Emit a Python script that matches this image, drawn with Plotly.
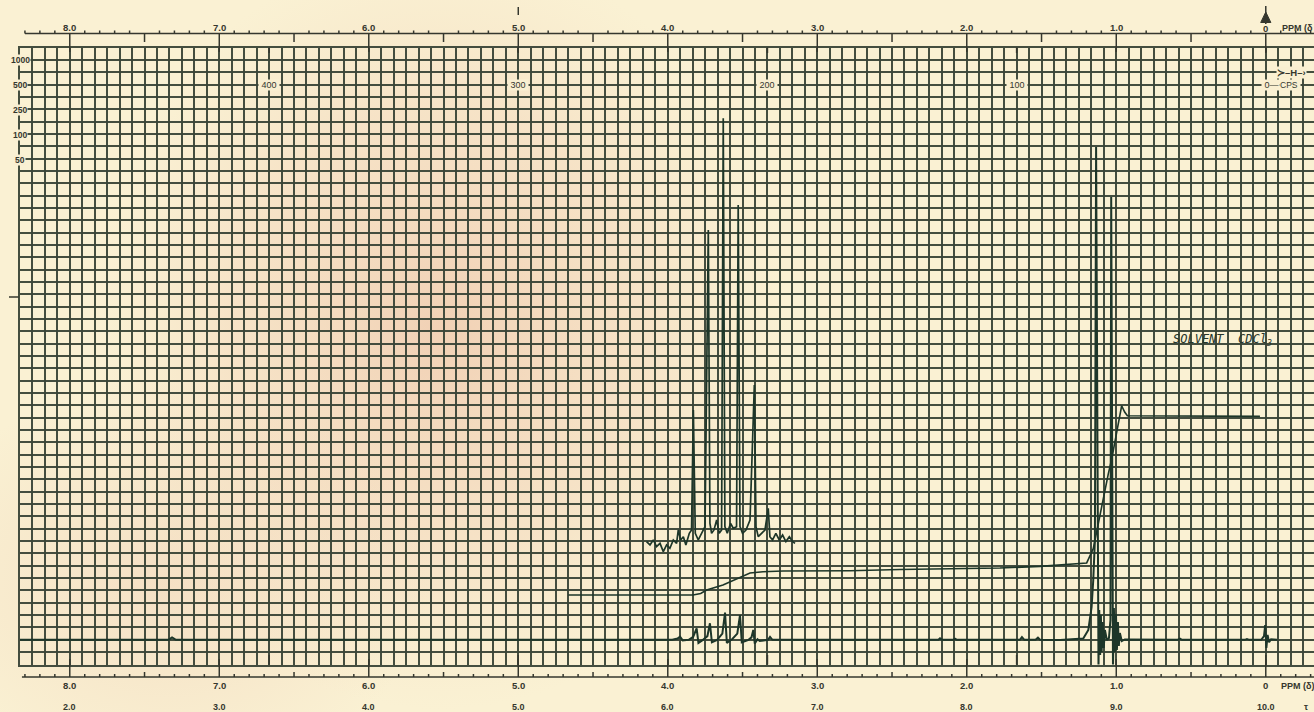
import base64
import plotly.graph_objects as go

# ---------------- spectrum data (δ in ppm, pen height in chart divisions) ----------------
spec_ppm = [8.333, 7.34, 7.316, 7.29, 3.97, 3.935, 3.918, 3.90, 3.86, 3.83, 3.807, 3.795,
            3.77, 3.735, 3.718, 3.705, 3.67, 3.635, 3.617, 3.605, 3.57, 3.535, 3.517, 3.505,
            3.46, 3.44, 3.428, 3.418, 3.40, 3.385, 3.33, 3.316, 3.30, 2.19, 2.179, 2.165,
            2.09, 2.079, 2.065, 1.645, 1.631, 1.615, 1.54, 1.524, 1.51, 1.376, 1.221, 1.187,
            1.165, 1.154, 1.143, 1.135, 1.119, 1.114, 1.108, 1.103, 1.098, 1.091, 1.084, 1.076,
            1.063, 1.049, 1.039, 1.034, 1.022, 1.016, 1.009, 1.002, 0.996, 0.989, 0.983, 0.976,
            0.963, 0.943, 0.59, 0.574, 0.56, 0.14, 0.126, 0.11, 0.03, 0.012, 0.004, -0.004,
            -0.012, -0.022, -0.035, -0.075]
spec_div = [2.0, 2.0, 2.2, 2.0, 2.0, 2.1, 2.25, 1.95, 2.0, 2.25, 2.93, 1.75,
            1.95, 2.3, 3.34, 1.8, 2.0, 2.5, 4.20, 1.75, 2.05, 2.5, 4.01, 1.8,
            2.0, 2.2, 2.80, 1.7, 2.05, 1.9, 2.0, 2.23, 2.0, 2.0, 2.12, 2.0,
            2.0, 2.1, 2.0, 2.0, 2.22, 2.0, 2.0, 2.17, 2.0, 1.99, 2.11, 2.80,
            4.66, 6.85, 10.09, 41.94, -0.32, 4.42, 0.77, 4.01, 1.01, 3.44, 1.34, 2.80,
            1.99, 2.15, 3.61, 37.88, -0.28, 4.58, 1.01, 4.09, 1.18, 3.44, 1.50, 2.55,
            1.90, 2.03, 2.0, 2.09, 2.0, 2.0, 2.07, 2.0, 2.0, 2.3, 3.2, 1.34,
            2.4, 1.8, 2.05, 2.0]

integral_ppm = [4.665, 3.831, 3.78, 3.740, 3.631, 3.539, 3.450, 3.363, 3.229, 2.781, 2.447,
                1.778, 1.510, 1.198, 1.154, 1.053, 1.031, 0.982, 0.964, 0.944, 0.926, 0.039]
integral_div = [5.63, 5.63, 5.75, 6.04, 6.44, 6.93, 7.41, 7.52, 7.58, 7.60, 7.70,
                7.82, 7.95, 8.23, 9.39, 15.47, 16.63, 19.81, 20.97, 20.46, 20.16, 20.11]

# expanded (higher gain) sweep of the 3.6 ppm multiplet
expand_ppm = [4.142, 4.119, 4.097, 4.075, 4.052, 4.030, 4.008, 3.986, 3.963, 3.941, 3.930,
              3.914, 3.896, 3.879, 3.856, 3.841, 3.829, 3.816, 3.796, 3.774, 3.751, 3.729,
              3.718, 3.707, 3.691, 3.673, 3.656, 3.640, 3.629, 3.618, 3.602, 3.580, 3.562,
              3.540, 3.529, 3.517, 3.500, 3.477, 3.450, 3.421, 3.410, 3.395, 3.372, 3.350,
              3.328, 3.317, 3.299, 3.277, 3.254, 3.232, 3.210, 3.187, 3.165, 3.149]
expand_div = [9.96, 9.69, 10.09, 9.55, 9.82, 9.15, 9.69, 9.42, 10.09, 9.82, 10.90,
              10.09, 10.36, 9.69, 10.63, 10.90, 20.63, 10.63, 10.09, 10.63, 11.17, 35.22,
              11.44, 10.63, 10.90, 11.71, 10.63, 10.90, 44.26, 11.17, 10.63, 11.44, 11.04,
              11.17, 37.24, 11.17, 10.63, 10.90, 11.71, 22.65, 11.17, 10.36, 10.63, 10.90,
              12.66, 10.36, 10.09, 10.63, 10.09, 10.49, 9.96, 10.36, 9.96, 9.82]

# ---------------- scale labels ----------------
delta_ticks = [8, 7, 6, 5, 4, 3, 2, 1]
delta_labels = ["8.0", "7.0", "6.0", "5.0", "4.0", "3.0", "2.0", "1.0"]
tau_labels = ["2.0", "3.0", "4.0", "5.0", "6.0", "7.0", "8.0", "9.0"]
cps_values = [400, 300, 200, 100]
cps_labels = ["400", "300", "200", "100"]
spectrometer_mhz = 60.0
sweep_labels = ["1000", "500", "250", "100", "50"]

# ---------------- geometry / style ----------------
W, H = 1314, 712
X0 = 20                      # left border of chart paper (px)
PX_PER_PPM = 149.5
PPM_LEFT = 8.333
PPM_RIGHT = PPM_LEFT - (W - X0) / PX_PER_PPM
DECO_LEFT = PPM_LEFT + X0 / PX_PER_PPM
GRID_TOP, GRID_BOT = 47.5, 664.5
N_ROWS = 50

PAPER = "#f9efd1"
GRID = "rgba(58,68,55,0.95)"
INK = "#1d3629"
PRINT = "#35372e"
LABEL_FONT = "Liberation Sans"

fig = go.Figure()

# recorder traces on the grid
fig.add_trace(go.Scatter(x=spec_ppm, y=spec_div, mode="lines",
                         line=dict(color=INK, width=2.0), hoverinfo="skip", showlegend=False))
fig.add_trace(go.Scatter(x=integral_ppm, y=integral_div, mode="lines",
                         line=dict(color=INK, width=1.6), hoverinfo="skip", showlegend=False))
fig.add_trace(go.Scatter(x=expand_ppm, y=expand_div, mode="lines",
                         line=dict(color=INK, width=1.7), hoverinfo="skip", showlegend=False))

# ---------------- printed δ scales (top and bottom) ----------------
TOP_Y, BOT_Y = 33.5, 677.0
tx, ty = [], []
for i in range(87):
    v = round(8.3 - 0.1 * i, 1)
    if abs(v - round(v)) < 1e-9:
        top = (TOP_Y, 52.0)
        bot = (659.0, BOT_Y)
    elif abs(2 * v - round(2 * v)) < 1e-9:
        top = (TOP_Y, 42.0)
        bot = (672.0, BOT_Y)
    else:
        top = (30.5, TOP_Y)
        bot = (674.0, BOT_Y)
    tx += [v, v, None, v, v, None]
    ty += [top[0], top[1], None, bot[0], bot[1], None]

# 100-cps marks on the grid borders
for c in [0, 100, 200, 300, 400]:
    p = c / spectrometer_mhz
    tx += [p, p, None, p, p, None]
    ty += [GRID_BOT, 655.0, None, GRID_TOP, 53.0, None]

# scale lines
tx += [8.30, PPM_RIGHT, None, 8.32, PPM_RIGHT, None]
ty += [TOP_Y, TOP_Y, None, BOT_Y, BOT_Y, None]
# reference arrow stem at 0 ppm, index mark at 5 ppm, side mark
tx += [0, 0, None, 5.0, 5.0, None, DECO_LEFT - 0.06, DECO_LEFT - 0.125, None]
ty += [6.0, 24.0, None, 7.0, 15.0, None, 297, 297, None]

fig.add_trace(go.Scatter(x=tx, y=ty, mode="lines", xaxis="x2", yaxis="y2",
                         line=dict(color=PRINT, width=1.5), hoverinfo="skip",
                         showlegend=False, connectgaps=False))
# arrow head
fig.add_trace(go.Scatter(x=[0.034, 0, -0.034, 0.034], y=[22.5, 12.0, 22.5, 22.5],
                         mode="lines", fill="toself", fillcolor=PRINT, xaxis="x2", yaxis="y2",
                         line=dict(color=PRINT, width=1), hoverinfo="skip", showlegend=False))

ann = []


def label(x, y, text, size=9.5, color=PRINT, xanchor="center", bg=None, family=LABEL_FONT, **kw):
    d = dict(x=x, y=y, xref="x2", yref="y2", text=text, showarrow=False,
             xanchor=xanchor, yanchor="middle",
             font=dict(family=family, size=size, color=color))
    if bg:
        d.update(bgcolor=bg, borderpad=0)
    d.update(kw)
    ann.append(d)


for p, t in zip(delta_ticks, delta_labels):
    label(p, 27.5, "<b>%s</b>" % t)
    label(p, 685.5, "<b>%s</b>" % t)
for p, t in zip(delta_ticks, tau_labels):
    label(p, 706.5, "<b>%s</b>" % t, size=9)
label(0, 28.0, "<b>0</b>")
label(0, 685.5, "<b>0</b>")
label(0, 706.5, "<b>10.0</b>", size=9)
label(-0.095, 28.0, "<b>PPM (δ</b>", xanchor="left", size=9)
label(-0.09, 685.5, "<b>PPM (δ)</b>", xanchor="left", size=9)
label(-0.27, 706.5, "<b>τ</b>", size=9)

# sweep-width scale at the left edge
for t, yy in zip(sweep_labels, [60, 85, 110, 135, 160]):
    label(PPM_LEFT, yy, "<b>%s</b>" % t, size=8.5, bg=PAPER)

# cps scale along the 500-cps row
for c, t in zip(cps_values, cps_labels):
    label(c / spectrometer_mhz, 85, " %s " % t, size=9, bg=PAPER)
label(0, 85, " 0\u2014", size=9, bg=PAPER, xanchor="left", xshift=-5)
label(-0.16, 85, "CPS ", size=8.5, bg=PAPER)
label(-0.17, 72.5, "<b>≻\u2013H\u2013›</b>", size=9.5, bg=PAPER)

# hand-written note
label(0.29, 339.5, "SOLVENT  CDCl<sub>3</sub>", size=12, color="#26352b",
      family="DejaVu Sans Mono", xanchor="center")
ann[-1]["font"]["style"] = "italic"

# ---------------- paper tint ----------------
svg = (
    '<svg xmlns="http://www.w3.org/2000/svg" width="1314" height="712" viewBox="0 0 1314 712">'
    '<defs>'
    '<radialGradient id="a"><stop offset="0" stop-color="#eec6ab" stop-opacity="0.75"/>'
    '<stop offset="0.6" stop-color="#f1cfb5" stop-opacity="0.4"/>'
    '<stop offset="1" stop-color="#f4dcc0" stop-opacity="0"/></radialGradient>'
    '<radialGradient id="b"><stop offset="0" stop-color="#f0d2b8" stop-opacity="0.55"/>'
    '<stop offset="1" stop-color="#f0d2b8" stop-opacity="0"/></radialGradient>'
    '</defs>'
    '<rect width="1314" height="712" fill="#faf1d3"/>'
    '<ellipse cx="440" cy="330" rx="350" ry="380" fill="url(#a)"/>'
    '<ellipse cx="170" cy="580" rx="260" ry="200" fill="url(#b)"/>'
    '</svg>'
)
bg_src = "data:image/svg+xml;base64," + base64.b64encode(svg.encode()).decode()

fig.update_layout(
    width=W, height=H,
    margin=dict(l=0, r=0, t=0, b=0, autoexpand=False),
    paper_bgcolor=PAPER,
    plot_bgcolor="rgba(0,0,0,0)",
    showlegend=False,
    images=[dict(source=bg_src, xref="paper", yref="paper", x=0, y=1, sizex=1, sizey=1,
                 xanchor="left", yanchor="top", sizing="stretch", layer="below")],
    xaxis=dict(domain=[X0 / W, 1], range=[PPM_LEFT, PPM_RIGHT], tick0=0, dtick=1 / 12,
               showgrid=True, gridcolor=GRID, gridwidth=1.6, showticklabels=False, ticks="",
               zeroline=False, showline=True, mirror=True, linecolor=GRID, linewidth=2.2,
               anchor="y"),
    yaxis=dict(domain=[(H - GRID_BOT) / H, (H - GRID_TOP) / H], range=[0, N_ROWS], tick0=0,
               dtick=1, showgrid=True, gridcolor=GRID, gridwidth=1.6, showticklabels=False,
               ticks="", zeroline=False, showline=True, mirror=False, linecolor=GRID,
               linewidth=2.2, anchor="x"),
    xaxis2=dict(domain=[0, 1], range=[DECO_LEFT, PPM_RIGHT], visible=False, anchor="y2"),
    yaxis2=dict(domain=[0, 1], range=[H, 0], visible=False, anchor="x2"),
    annotations=ann,
)

fig.write_html("out.html")
